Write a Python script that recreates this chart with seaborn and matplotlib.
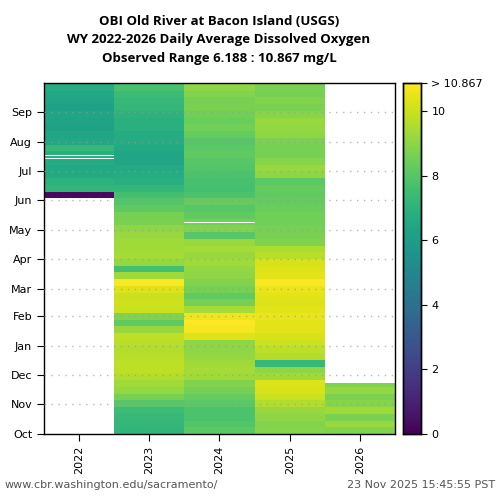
import numpy as np
import pandas as pd
import matplotlib
matplotlib.use('Agg')
import matplotlib.pyplot as plt
import seaborn as sns

# water years shown as columns
years = ['2022', '2023', '2024', '2025', '2026']
months = ['Oct', 'Nov', 'Dec', 'Jan', 'Feb', 'Mar', 'Apr', 'May', 'Jun', 'Jul', 'Aug', 'Sep']
month_start_day = [0, 31, 61, 92, 123, 151, 182, 212, 243, 273, 304, 335]

nan = np.nan
# weekly average dissolved oxygen (mg/L), week 0 starts Oct 1 of the water year
do_2022 = [nan] * 35 + [0.3, 7.1, 7.0, 6.6, 6.5, 6.7, 6.9, 7.3, 6.5, 6.4, 6.2, 6.3,
                        6.4, 6.2, 6.4, 6.5, 6.7, 6.8]
do_2023 = [7.1, 7.2, 7.3, 7.4, 8.0, 8.6, 9.1, 9.3, 9.6, 9.8, 9.8, 9.7, 9.6, 9.7,
           9.8, 9.2, 8.2, 8.8, 10.0, 10.1, 10.0, 10.3, 10.8, 9.3, 7.6, 9.1, 9.4,
           9.3, 9.3, 9.2, 9.0, 8.7, 8.6, 8.2, 7.9, 7.6, 7.2, 6.8, 6.7, 6.6, 6.4,
           6.4, 6.6, 6.7, 6.7, 6.9, 6.9, 7.0, 7.2, 7.3, 7.4, 7.7, 7.9]
do_2024 = [8.1, 7.9, 7.8, 7.8, 8.1, 8.3, 8.6, 8.8, 9.3, 9.4, 9.3, 9.1, 9.0, 9.0,
           10.3, 10.7, 10.8, 10.6, 9.4, 8.6, 8.2, 8.6, 8.8, 9.0, 9.1, 9.3, 9.2,
           9.4, 9.2, 8.0, 8.8, 8.5, 8.2, 8.0, 8.3, 7.8, 7.6, 7.7, 7.8, 7.9, 8.0,
           8.2, 8.1, 8.0, 8.3, 8.5, 8.4, 8.5, 8.7, 8.6, 8.8, 9.0, 9.0]
do_2025 = [8.9, 8.8, 9.0, 9.2, 9.6, 10.0, 10.2, 10.3, 9.3, 9.0, 7.3, 9.6, 9.8, 10.0,
           10.2, 10.4, 10.4, 10.5, 10.4, 10.3, 10.4, 10.5, 10.8, 10.4, 10.3, 10.2,
           9.7, 9.5, 8.8, 8.7, 8.6, 8.5, 8.5, 8.4, 8.3, 8.2, 8.3, 8.1, 9.0, 9.2,
           8.9, 8.6, 8.6, 8.7, 9.0, 9.1, 9.2, 8.9, 8.7, 8.8, 8.6, 8.7, 8.6]
do_2026 = [8.8, 9.2, 8.7, 9.3, 8.9, 8.7, 9.1, 8.8]

# days (from Oct 1) with no record
missing_days = {'2022': [286, 289], '2024': [219]}
last_day_2026 = 52
range_min, range_max = 6.188, 10.867

weekly = {'2022': do_2022, '2023': do_2023, '2024': do_2024, '2025': do_2025, '2026': do_2026}

# expand weekly readings to a day-of-water-year table
n_days = 365
daily = {}
for yr in years:
    vals = np.repeat(np.array(weekly[yr], dtype=float), 7)
    col = np.full(n_days, np.nan)
    col[:min(len(vals), n_days)] = vals[:n_days]
    for d in missing_days.get(yr, []):
        col[d] = np.nan
    daily[yr] = col
daily['2026'][last_day_2026 + 1:] = np.nan
df = pd.DataFrame(daily, index=np.arange(n_days))

fig = plt.figure(figsize=(5, 5), dpi=100)
ax = fig.add_axes([0.088, 0.132, 0.702, 0.702])
cax = fig.add_axes([0.806, 0.132, 0.036, 0.702])

sns.heatmap(df, ax=ax, cbar_ax=cax, cmap='viridis', vmin=0, vmax=range_max,
            linewidths=0, yticklabels=False, xticklabels=years)
ax.invert_yaxis()

# month ticks and dotted guides
ax.set_yticks(month_start_day)
ax.set_yticklabels(months, fontsize=8)
for d in month_start_day[1:]:
    ax.axhline(d, color='#999999', linestyle=(0, (1, 4)), linewidth=1, alpha=0.7, zorder=5)
ax.tick_params(axis='x', labelrotation=90, labelsize=8, length=5)
ax.tick_params(axis='y', labelsize=8, length=5)
ax.set_xlabel('')
ax.set_ylabel('')
for s in ax.spines.values():
    s.set_visible(True)
    s.set_color('black')
    s.set_linewidth(1)

cax.set_yticks([0, 2, 4, 6, 8, 10, range_max])
cax.set_yticklabels(['0', '2', '4', '6', '8', '10', '> %.3f' % range_max])
cax.tick_params(labelsize=8, length=4)
for s in cax.spines.values():
    s.set_visible(True)
    s.set_color('black')
    s.set_linewidth(1)

fig.text(0.438, 0.97, 'OBI Old River at Bacon Island (USGS)\n'
         'WY 2022-2026 Daily Average Dissolved Oxygen\n'
         'Observed Range %.3f : %.3f mg/L' % (range_min, range_max),
         ha='center', va='top', fontsize=9.5, fontweight='bold', family='Open Sans',
         linespacing=1.55)
fig.text(0.01, 0.03, 'www.cbr.washington.edu/sacramento/', ha='left', va='center',
         fontsize=8, color='#555555')
fig.text(0.99, 0.03, '23 Nov 2025 15:45:55 PST', ha='right', va='center',
         fontsize=8, color='#555555')

fig.savefig('out.png', dpi=100)
